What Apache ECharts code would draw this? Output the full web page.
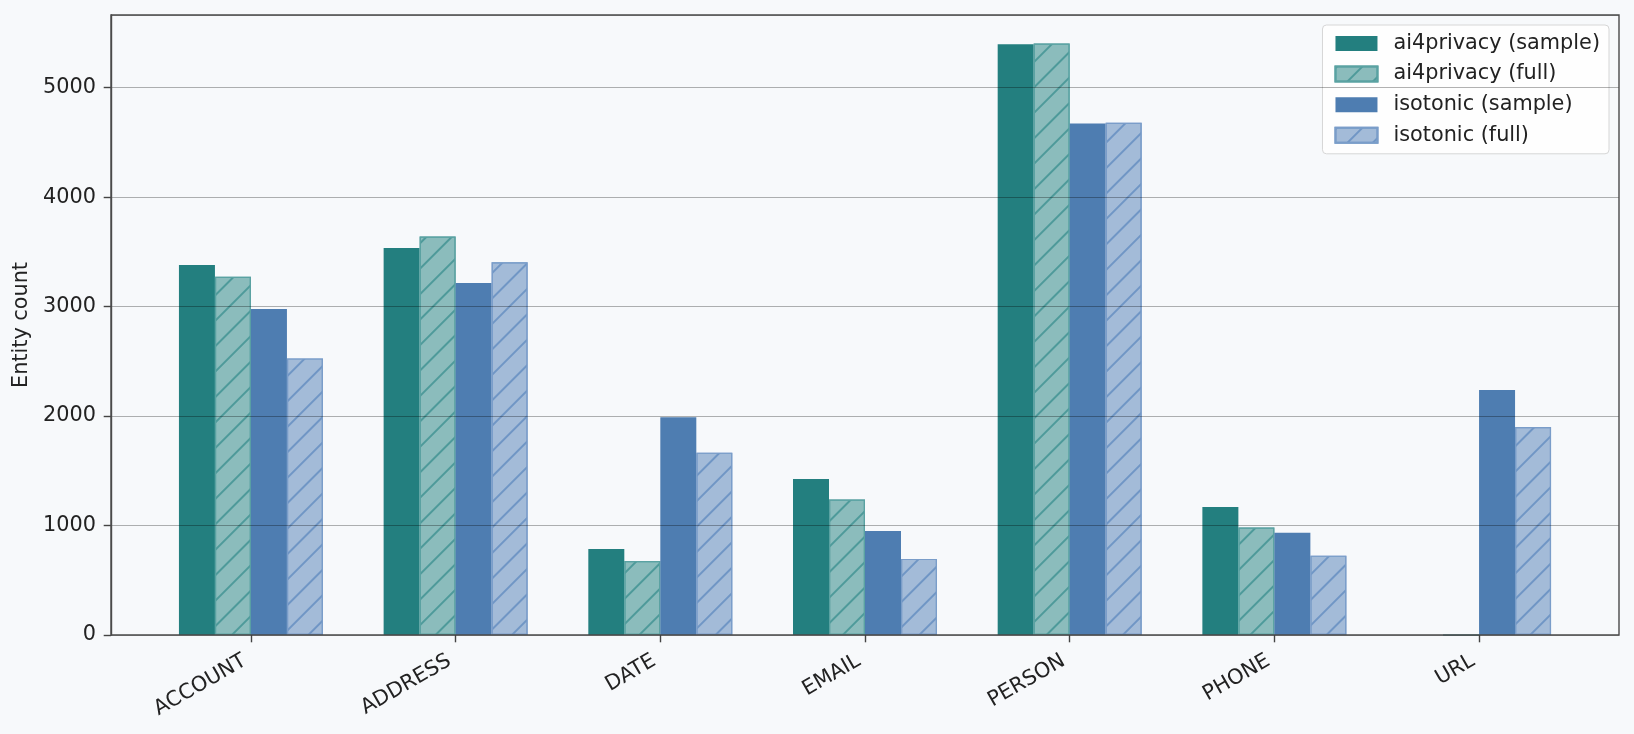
<!DOCTYPE html>
<html>
<head>
<meta charset="utf-8">
<script src="https://cdn.jsdelivr.net/npm/echarts@6/dist/echarts.min.js"></script>
<style>
  html, body { margin: 0; padding: 0; background: #f7f9fb; }
  #chart { width: 1634px; height: 734px; }
</style>
</head>
<body>
<div id="chart"></div>
<script>
const categories = ["ACCOUNT", "ADDRESS", "DATE", "EMAIL", "PERSON", "PHONE", "URL"];
const ai4privacySample = [3380, 3535, 785, 1426, 5397, 1170, 0];
const ai4privacyFull = [3273, 3640, 675, 1237, 5403, 981, 0];
const isotonicSample = [2978, 3215, 1990, 951, 4673, 933, 2238];
const isotonicFull = [2527, 3405, 1666, 695, 4679, 725, 1900];
const yStep = 1000;
const yMax = 5664;

const font = "DejaVu Sans";
const fs = 20.8;

// hatch "/" for the full-dataset bars
function hatch(color) {
  return {
    symbol: "rect",
    symbolSize: 1,
    color: color,
    dashArrayX: [1, 0],
    dashArrayY: [1.8, 16],
    rotation: -Math.PI / 4
  };
}

function barSeries(name, data, face, edge, hatchColor) {
  return {
    name: name,
    type: "bar",
    xAxisIndex: 1,
    yAxisIndex: 1,
    data: data,
    barWidth: 36,
    barGap: "0%",
    itemStyle: {
      color: face,
      borderColor: edge,
      borderWidth: edge ? 1.2 : 0,
      decal: hatchColor ? hatch(hatchColor) : null
    }
  };
}

const chart = echarts.init(document.getElementById("chart"));
chart.setOption({
  backgroundColor: "#f7f9fb",
  animation: false,
  textStyle: { fontFamily: font },
  grid: [
    { left: 111, right: 15, top: 15, bottom: 99, show: true, borderColor: "#4a4a4a", borderWidth: 1.4, backgroundColor: "transparent", z: 20 },
    { left: 148.6, right: 52.6, top: 15, bottom: 99 }
  ],
  xAxis: [
    { type: "value", gridIndex: 0, min: 0, max: 1, show: false },
    {
      type: "category",
      gridIndex: 1,
      data: categories,
      axisLine: { show: false },
      axisTick: { show: true, alignWithLabel: true, length: 7.3, lineStyle: { color: "#444", width: 1.4 } },
      axisLabel: { rotate: 30, fontSize: fs, color: "#222", margin: 21, padding: [0, 7, 0, 0], fontFamily: font }
    }
  ],
  yAxis: [
    {
      type: "value",
      gridIndex: 0,
      min: 0,
      max: yMax,
      interval: yStep,
      z: 10,
      axisLine: { show: true, onZero: false, lineStyle: { color: "#4a4a4a", width: 1.4 } },
      axisTick: { show: true, inside: false, length: 7.3, lineStyle: { color: "#444", width: 1.4 } },
      axisLabel: {
        fontSize: fs, color: "#222", margin: 15, fontFamily: font,
        showMaxLabel: false,
        formatter: (v) => (v % yStep === 0 ? String(v) : "")
      },
      splitLine: { show: true, lineStyle: { color: "rgba(0,0,0,0.3)", width: 1.1 } },
      name: "Entity count",
      nameLocation: "middle",
      nameRotate: 90,
      nameGap: 75,
      nameTextStyle: { fontSize: fs, color: "#222", fontFamily: font }
    },
    { type: "value", gridIndex: 1, min: 0, max: yMax, show: false }
  ],
  legend: {
    right: 25,
    top: 25,
    orient: "vertical",
    icon: "rect",
    itemWidth: 42,
    itemHeight: 15,
    itemGap: 9.6,
    padding: [8, 9, 8, 12],
    backgroundColor: "rgba(255,255,255,0.8)",
    borderColor: "#d6d6d6",
    borderWidth: 1,
    borderRadius: 4,
    textStyle: { fontSize: fs, color: "#222", fontFamily: font, lineHeight: 20, padding: [0, 0, 0, 11] },
    data: ["ai4privacy (sample)", "ai4privacy (full)", "isotonic (sample)", "isotonic (full)"]
  },
  series: [
    barSeries("ai4privacy (sample)", ai4privacySample, "#237f7f", null, null),
    barSeries("ai4privacy (full)", ai4privacyFull, "#8bbcbc", "#5aa2a2", "#4e9a9a"),
    barSeries("isotonic (sample)", isotonicSample, "#4e7db1", null, null),
    barSeries("isotonic (full)", isotonicFull, "#a3bbd8", "#7a9dc9", "#7096c5")
  ]
});
</script>
</body>
</html>
